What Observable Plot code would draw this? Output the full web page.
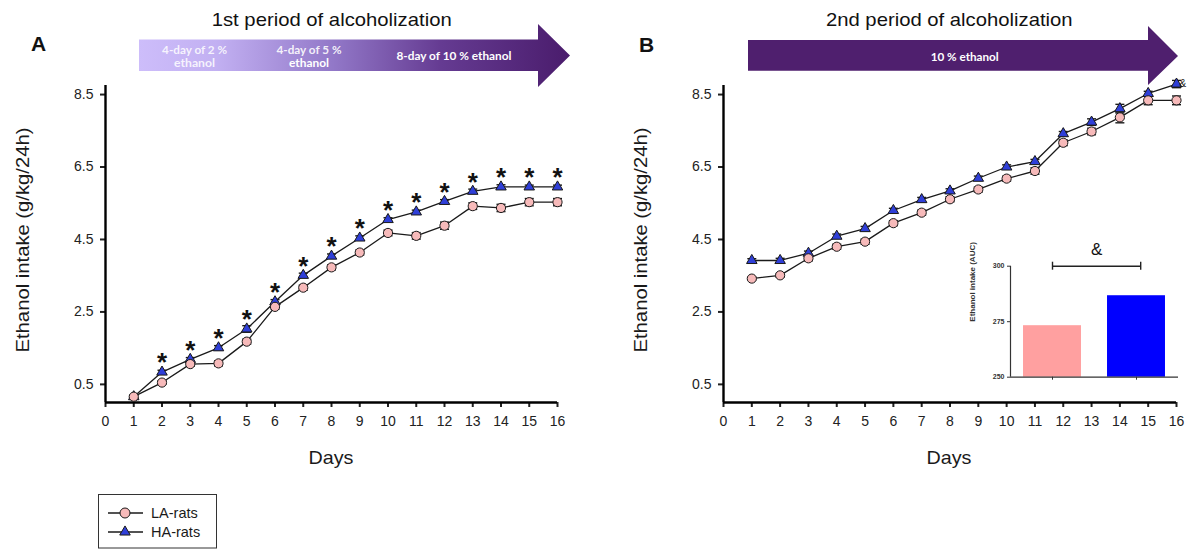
<!DOCTYPE html>
<html><head><meta charset="utf-8">
<script src="https://cdn.jsdelivr.net/npm/d3@7"></script>
<script src="https://cdn.jsdelivr.net/npm/@observablehq/plot@0.6"></script>
<style>
body{margin:0;background:#fff}
#root{position:relative;width:1187px;height:549px;overflow:hidden;background:#fff;font-family:"Liberation Sans",Arial,sans-serif}
</style></head><body><div id="root"></div>
<script>
// ---------- data ----------
const days = [1,2,3,4,5,6,7,8,9,10,11,12,13,14,15,16];
const xTicks = [0,1,2,3,4,5,6,7,8,9,10,11,12,13,14,15,16];
const yTicks = [0.5,2.5,4.5,6.5,8.5];

// Panel A: 1st period
const laA    = [0.16,0.55,1.06,1.08,1.68,2.64,3.17,3.73,4.14,4.68,4.60,4.88,5.42,5.37,5.53,5.53];
const laASem = [0.04,0.05,0.06,0.07,0.07,0.06,0.07,0.07,0.07,0.08,0.09,0.10,0.09,0.10,0.10,0.10];
const haA    = [0.16,0.84,1.19,1.51,2.03,2.78,3.51,4.04,4.54,5.05,5.26,5.55,5.83,5.95,5.95,5.95];
const haASem = [0.03,0.05,0.05,0.06,0.09,0.06,0.06,0.06,0.06,0.05,0.05,0.05,0.06,0.06,0.05,0.05];
const starDaysA = [2,3,4,5,6,7,8,9,10,11,12,13,14,15,16];

// Panel B: 2nd period
const laB    = [3.42,3.51,3.98,4.30,4.44,4.95,5.24,5.61,5.88,6.18,6.39,7.17,7.48,7.87,8.34,8.34];
const laBSem = [0.04,0.05,0.07,0.07,0.07,0.07,0.07,0.07,0.07,0.07,0.09,0.08,0.09,0.15,0.12,0.12];
const haB    = [3.92,3.92,4.12,4.59,4.80,5.30,5.60,5.84,6.19,6.50,6.65,7.42,7.74,8.11,8.53,8.79];
const haBSem = [0.05,0.06,0.06,0.06,0.06,0.06,0.06,0.06,0.06,0.06,0.06,0.06,0.09,0.12,0.06,0.10];
const ampDayB = [16];

// Inset: AUC
const aucGroups = ["LA-rats","HA-rats"];
const aucValues = [273.2, 286.7];
const aucColors = ["#ffa0a0", "#0000ff"];
const aucTicks = [250,275,300];
const aucSigPair = [0.5, 1.55];

// ---------- drawing ----------
const root = document.getElementById("root");
const FONT = '"Liberation Sans", Arial, sans-serif';
const INK = "#1a1a1a";
const capSym = {draw(ctx){ ctx.moveTo(-4.5,0); ctx.lineTo(4.5,0); }};
const TRI_R = 3.9;

function place(el, left, top){
  el.style.position = "absolute"; el.style.left = left + "px"; el.style.top = top + "px";
  root.appendChild(el);
}

function panel({la, laSem, ha, haSem, stars, amp, width, marginLeft, marginRight}){
  const rows = (vals, sem) => days.map((d,i) => ({day:d, v:vals[i], s:sem[i]}));
  const L = rows(la, laSem), H = rows(ha, haSem);
  const errs = (R) => [
    Plot.ruleX(R, {x:"day", y1:d=>d.v-d.s, y2:d=>d.v+d.s, stroke:INK, strokeWidth:1.2}),
    Plot.dot(R, {x:"day", y:d=>d.v+d.s, symbol:capSym, fill:"none", stroke:INK, strokeWidth:1.4}),
    Plot.dot(R, {x:"day", y:d=>d.v-d.s, symbol:capSym, fill:"none", stroke:INK, strokeWidth:1.4})
  ];
  return Plot.plot({
    width, height:549, marginLeft, marginRight, marginTop:85, marginBottom:147,
    style:{fontFamily:FONT, fontSize:"14px", color:"#222", background:"transparent"},
    x:{domain:[0,16]},
    y:{domain:[0,8.75]},
    marks:[
      Plot.axisY({ticks:yTicks, tickSize:5, tickPadding:7, strokeWidth:2, tickFormat:d=>d.toFixed(1), label:null, fontSize:14}),
      Plot.axisX({ticks:xTicks, tickSize:5, tickPadding:9, strokeWidth:2, tickFormat:d=>String(d), label:null, fontSize:14}),
      Plot.ruleX([0], {stroke:"#000", strokeWidth:2.4}),
      Plot.ruleY([0], {stroke:"#000", strokeWidth:2.4}),
      Plot.line(H, {x:"day", y:"v", stroke:INK, strokeWidth:1.3}),
      Plot.line(L, {x:"day", y:"v", stroke:INK, strokeWidth:1.3}),
      ...errs(H), ...errs(L),
      Plot.dot(H, {x:"day", y:"v", symbol:"triangle", r:TRI_R, fill:"#2f3fd8", stroke:INK, strokeWidth:1}),
      Plot.dot(L, {x:"day", y:"v", r:4.6, fill:"#f7baba", stroke:INK, strokeWidth:1}),
      Plot.text(stars.map(d => H[d-1]), {x:"day", y:"v", text:()=>"*", dy:-9, fontSize:26, fontWeight:"bold", fill:"#111"}),
      Plot.text(amp.map(d => H[d-1]), {x:"day", y:"v", text:()=>"&", dx:3, textAnchor:"start", fontSize:10, fill:"#111"})
    ]
  });
}

place(panel({la:laA, laSem:laASem, ha:haA, haSem:haASem, stars:starDaysA, amp:[], width:600, marginLeft:105, marginRight:43}), 0, 0);
place(panel({la:laB, laSem:laBSem, ha:haB, haSem:haBSem, stars:[], amp:ampDayB, width:587, marginLeft:123, marginRight:11}), 600, 0);

// Inset bar chart
const auc = aucGroups.map((g,i) => ({g, i, v:aucValues[i], c:aucColors[i]}));
const inset = Plot.plot({
  width:247, height:160, marginLeft:70, marginRight:9, marginTop:35.7, marginBottom:13.3,
  style:{fontFamily:FONT, fontSize:"7px", color:"#333", background:"transparent"},
  x:{domain:[0,2]}, y:{domain:[250,300]},
  marks:[
    Plot.rectY(auc, {x1:d=>d.i+0.155, x2:d=>d.i+0.845, y1:250, y2:"v", fill:"c"}),
    Plot.axisY({ticks:aucTicks, tickSize:3, tickPadding:3, fontSize:7, fontWeight:"bold", label:null}),
    Plot.axisX({ticks:[0.5,1.5], tickSize:3, tickFormat:()=>"", label:null}),
    Plot.ruleX([0], {y1:250, y2:300, stroke:"#333", strokeWidth:1.2}),
    Plot.ruleY([250], {stroke:"#333", strokeWidth:1.2}),
    Plot.ruleY([300], {x1:aucSigPair[0], x2:aucSigPair[1], stroke:"#222", strokeWidth:1.4}),
    Plot.ruleX(aucSigPair, {y1:298.2, y2:301.8, stroke:"#222", strokeWidth:1.4}),
    Plot.text(["&"], {x:(aucSigPair[0]+aucSigPair[1])/2, y:300, dy:-17, fontSize:17, fill:"#111"}),
    Plot.text(["Ethanol intake (AUC)"], {frameAnchor:"left", rotate:-90, dx:-38, fontSize:8, fontWeight:"bold", fill:"#333"})
  ]
});
place(inset, 940, 230);

// Overlay: arrows, titles, axis titles, legend
const ov = d3.create("svg").attr("width",1187).attr("height",549).style("pointer-events","none");
const defs = ov.append("defs");
const gr = defs.append("linearGradient").attr("id","gA").attr("gradientUnits","userSpaceOnUse")
  .attr("x1",139).attr("x2",570).attr("y1",0).attr("y2",0);
[[0,"#cdbdfa"],[0.18,"#c2b0f2"],[0.45,"#9278c8"],[0.7,"#653b92"],[1,"#4a1c6c"]]
  .forEach(([o,c]) => gr.append("stop").attr("offset",o).attr("stop-color",c));

ov.append("polygon").attr("points","139,39.5 538,39.5 538,24 570,55.5 538,87 538,71 139,71").attr("fill","url(#gA)");
ov.append("polygon").attr("points","748,40 1148,40 1148,26 1178,56 1148,85 1148,70.7 748,70.7").attr("fill","#4f1f6e");

function txt(parent, s, x, y, o={}){
  const t = parent.append("text").attr("x",x).attr("y",y).text(s)
    .attr("font-family", o.family || FONT).attr("font-size", o.size || 14)
    .attr("font-weight", o.weight || "normal").attr("fill", o.fill || "#111")
    .attr("text-anchor", o.anchor || "middle");
  if (o.len) t.attr("textLength", o.len).attr("lengthAdjust","spacingAndGlyphs");
  if (o.base) t.attr("dominant-baseline", o.base);
  if (o.rotate) t.attr("transform", `rotate(${o.rotate},${x},${y})`);
  if (o.opacity) t.attr("fill-opacity", o.opacity);
  return t;
}
const AF = "Lato, 'Open Sans', sans-serif";
txt(ov, "4-day of 2 %", 194.6, 49.5, {family:AF, size:10.5, weight:"bold", fill:"#fff", base:"central", len:65, opacity:0.85});
txt(ov, "ethanol", 194.5, 63.3, {family:AF, size:10.5, weight:"bold", fill:"#fff", base:"central", len:41, opacity:0.85});
txt(ov, "4-day of 5 %", 309, 49.5, {family:AF, size:10.5, weight:"bold", fill:"#fff", base:"central", len:65, opacity:0.9});
txt(ov, "ethanol", 309, 63.3, {family:AF, size:10.5, weight:"bold", fill:"#fff", base:"central", len:40});
txt(ov, "8-day of 10 % ethanol", 454, 56, {family:AF, size:10.5, weight:"bold", fill:"#fff", base:"central", len:115});
txt(ov, "10 % ethanol", 964.7, 56.7, {family:AF, size:10.5, weight:"bold", fill:"#fff", base:"central", len:68});

txt(ov, "1st period of alcoholization", 331.7, 26, {size:19, len:240});
txt(ov, "2nd period of alcoholization", 949.3, 26, {size:19, len:246.7});
txt(ov, "A", 31, 51, {size:21, weight:"bold", anchor:"start"});
txt(ov, "B", 639, 52, {size:21, weight:"bold", anchor:"start"});

txt(ov, "Ethanol intake (g/kg/24h)", 23, 240, {size:18, base:"central", rotate:-90, len:225, fill:"#1a1a1a"});
txt(ov, "Ethanol intake (g/kg/24h)", 641, 240, {size:18, base:"central", rotate:-90, len:225, fill:"#1a1a1a"});
txt(ov, "Days", 331, 457, {size:19, base:"central", len:45, fill:"#1a1a1a"});
txt(ov, "Days", 949, 457, {size:19, base:"central", len:45, fill:"#1a1a1a"});

// legend
const lg = ov.append("g");
lg.append("rect").attr("x",98.5).attr("y",494.5).attr("width",118).attr("height",53.5).attr("fill","#fff").attr("stroke","#333").attr("stroke-width",1);
[[513,"LA-rats"],[532,"HA-rats"]].forEach(([y,label],k) => {
  lg.append("line").attr("x1",108).attr("x2",143).attr("y1",y).attr("y2",y).attr("stroke",INK).attr("stroke-width",1.3);
  if (k===0) lg.append("circle").attr("cx",125).attr("cy",y).attr("r",5).attr("fill","#f7baba").attr("stroke",INK);
  else lg.append("path").attr("d", d3.symbol(d3.symbolTriangle, TRI_R*TRI_R*Math.PI)()).attr("transform",`translate(125,${y})`).attr("fill","#2f3fd8").attr("stroke",INK);
  txt(lg, label, 151, y, {size:14.5, anchor:"start", base:"central", fill:"#1a1a1a"});
});

place(ov.node(), 0, 0);
</script></body></html>
